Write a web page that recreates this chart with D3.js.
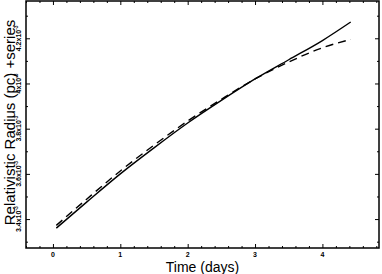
<!DOCTYPE html>
<html>
<head>
<meta charset="utf-8">
<script src="https://cdn.jsdelivr.net/npm/d3@7"></script>
<style>
  body { margin: 0; background: #fff; }
  text { font-family: "Liberation Sans", Arial, sans-serif; fill: #000; }
</style>
</head>
<body>
<div id="chart"></div>
<script>
// data (radius in units of 1e-3 pc)
const days = [0.05, 0.5, 1, 1.5, 2, 2.5, 3, 3.5, 4, 4.42];
const radiusSolid = [3.360, 3.475, 3.600, 3.715, 3.825, 3.925, 4.020, 4.105, 4.190, 4.272];
const radiusDashed = [3.372, 3.488, 3.613, 3.727, 3.834, 3.930, 4.020, 4.095, 4.158, 4.195];
const xTicks = [0, 1, 2, 3, 4];
const yTicks = [3.4, 3.6, 3.8, 4.0, 4.2];
const yTickLabels = ["3.4", "3.6", "3.8", "4", "4.2"];

var margin = { top: 1, right: 3, bottom: 26, left: 26 },
    width = 382 - margin.left - margin.right,
    height = 274 - margin.top - margin.bottom;

const svg = d3.select("#chart")
  .append("svg")
    .attr("width", 382)
    .attr("height", 274)
  .append("g")
    .attr("transform", `translate(${margin.left}, ${margin.top})`);

const x = d3.scaleLinear().domain([-0.4, 4.84]).range([0, width]);
const y = d3.scaleLinear().domain([3.272, 4.365]).range([height, 0]);

// inward ticks on all four sides
const xMinor = d3.range(-0.4, 4.85, 0.2).filter(v => Math.abs(v - Math.round(v)) > 0.01);
const yMinor = d3.range(3.3, 4.36, 0.1).filter(v => !yTicks.some(t => Math.abs(t - v) < 0.01));

function ticks(axis, vals, len) {
  axis.tickValues(vals).tickSize(len).tickSizeOuter(0).tickFormat("");
  return axis;
}
const tickGroups = [
  [d3.axisTop(x), xTicks, 4, `translate(0,${height})`],
  [d3.axisTop(x), xMinor, 2, `translate(0,${height})`],
  [d3.axisBottom(x), xTicks, 4, "translate(0,0)"],
  [d3.axisBottom(x), xMinor, 2, "translate(0,0)"],
  [d3.axisRight(y), yTicks, 4, "translate(0,0)"],
  [d3.axisRight(y), yMinor, 2, "translate(0,0)"],
  [d3.axisLeft(y), yTicks, 4, `translate(${width},0)`],
  [d3.axisLeft(y), yMinor, 2, `translate(${width},0)`]
];
tickGroups.forEach(function(t) {
  const g = svg.append("g").attr("transform", t[3]).call(ticks(t[0], t[1], t[2]));
  g.select(".domain").remove();
  g.selectAll("line").attr("stroke", "#000").attr("stroke-width", 1);
});

// frame
svg.append("rect")
  .attr("width", width).attr("height", height)
  .attr("fill", "none").attr("stroke", "#000").attr("stroke-width", 1.5);

// x tick labels
svg.selectAll(".xl")
  .data(xTicks)
  .join("text")
  .attr("x", d => x(d))
  .attr("y", height + 9)
  .attr("text-anchor", "middle")
  .style("font-size", "7px")
  .style("font-weight", "bold")
  .text(d => d);

// y tick labels, rotated, like "3.4x10^-3"
const yl = svg.selectAll(".yl")
  .data(yTicks)
  .join("text")
  .attr("transform", d => `translate(-5,${y(d)}) rotate(-90)`)
  .attr("text-anchor", "middle")
  .style("font-size", "7px")
  .style("font-weight", "bold");
yl.append("tspan").text((d, i) => yTickLabels[i] + "x10");
yl.append("tspan").attr("dy", -3).style("font-size", "5px").text("-3");

// axis titles
svg.append("text")
  .attr("x", width / 2)
  .attr("y", height + 24)
  .attr("text-anchor", "middle")
  .style("font-size", "14px")
  .text("Time (days)");

svg.append("text")
  .attr("transform", `translate(-11,${height / 2 - 2}) rotate(-90)`)
  .attr("text-anchor", "middle")
  .style("font-size", "15px")
  .text("Relativistic Radius (pc) +series");

// curves
const line = d3.line()
  .x(d => x(d[0]))
  .y(d => y(d[1]))
  .curve(d3.curveMonotoneX);

svg.append("path")
  .datum(days.map((d, i) => [d, radiusSolid[i]]))
  .attr("d", line)
  .attr("fill", "none")
  .attr("stroke", "#000")
  .attr("stroke-width", 1.4);

svg.append("path")
  .datum(days.map((d, i) => [d, radiusDashed[i]]))
  .attr("d", line)
  .attr("fill", "none")
  .attr("stroke", "#000")
  .attr("stroke-width", 1.4)
  .attr("stroke-dasharray", "8,5");
</script>
</body>
</html>
